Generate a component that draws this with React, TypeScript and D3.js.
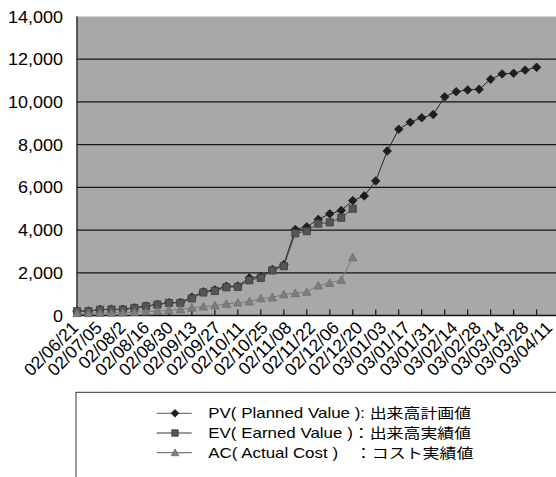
import React from "react";
import * as d3 from "d3";

const tickLabels = [
  "02/06/21", "02/07/05", "02/08/2", "02/08/16", "02/08/30", "02/09/13", "02/09/27",
  "02/10/11", "02/10/25", "02/11/08", "02/11/22", "02/12/06", "02/12/20", "03/01/03",
  "03/01/17", "03/01/31", "03/02/14", "03/02/28", "03/03/14", "03/03/28", "03/04/11",
];

const pvValues = [
  210, 210, 280, 290, 290, 360, 440, 520, 600, 610,
  860, 1110, 1200, 1370, 1380, 1760, 1820, 2150, 2380, 4030,
  4150, 4500, 4760, 4920, 5380, 5600, 6300, 7700, 8720, 9050,
  9260, 9410, 10240, 10480, 10560, 10590, 11060, 11310, 11340, 11490,
  11620,
];

const evValues = [
  200, 200, 270, 280, 280, 350, 430, 510, 590, 590,
  800, 1080, 1150, 1320, 1340, 1650, 1760, 2110, 2310, 3850,
  3950, 4300, 4360, 4580, 5000,
];

const acValues = [
  100, 100, 110, 120, 130, 150, 180, 210, 250, 280,
  360, 410, 470, 540, 600, 650, 800, 840, 990, 1040,
  1100, 1400, 1520, 1660, 2720,
];

const yTicks = [0, 2000, 4000, 6000, 8000, 10000, 12000, 14000];

const legendItems = [
  { key: "pv", label: "PV( Planned Value ): 出来高計画値" },
  { key: "ev", label: "EV( Earned Value )：出来高実績値" },
  { key: "ac", label: "AC( Actual Cost )　：コスト実績値" },
];

const W = 556;
const H = 477;
const plotLeft = 77;
const plotTop = 16.5;
const plotBottom = 315.5;
const step = 11.49;
const nSlots = 42;

const x = d3.scaleLinear().domain([0, nSlots]).range([plotLeft, plotLeft + nSlots * step]);
const y = d3.scaleLinear().domain([0, 14000]).range([plotBottom, plotTop]);
const labelX = d3.scalePoint<string>().domain(tickLabels).range([75, 549]);

const lineGen = d3
  .line<number>()
  .x((_, i) => x(i))
  .y((d) => y(d));

const diamond = (cx: number, cy: number, r: number) =>
  `M${cx},${cy - r}L${cx + r},${cy}L${cx},${cy + r}L${cx - r},${cy}Z`;
const square = (cx: number, cy: number, r: number) =>
  `M${cx - r},${cy - r}h${2 * r}v${2 * r}h${-2 * r}Z`;
const triangle = (cx: number, cy: number, r: number) =>
  `M${cx},${cy - r}L${cx + r},${cy + r * 0.8}L${cx - r},${cy + r * 0.8}Z`;

const styles: Record<string, { line: string; fill: string; stroke: string; shape: (cx: number, cy: number, r: number) => string; r: number }> = {
  pv: { line: "#262626", fill: "#1e1e1e", stroke: "#1e1e1e", shape: diamond, r: 4.3 },
  ev: { line: "#4a4a4a", fill: "#555555", stroke: "#3c3c3c", shape: square, r: 3.6 },
  ac: { line: "#7a7a7a", fill: "#7e7e7e", stroke: "#6c6c6c", shape: triangle, r: 4.2 },
};

const seriesList = [
  { key: "pv", values: pvValues },
  { key: "ev", values: evValues },
  { key: "ac", values: acValues },
];

export default function App() {
  const tickIdx = d3.range(0, nSlots + 1, 2);
  return (
    <svg
      width={W}
      height={H}
      style={{ position: "absolute", left: 0, top: 0, background: "#fff" }}
      fontFamily="'Liberation Sans', Arial, sans-serif"
    >
      <rect x={0} y={0} width={W} height={H} fill="#ffffff" />
      {/* plot area */}
      <rect
        x={plotLeft}
        y={plotTop}
        width={W - plotLeft + 10}
        height={plotBottom - plotTop}
        fill="#a8a8a8"
        stroke="#d6d6d6"
        strokeWidth={1}
      />
      {/* gridlines */}
      {yTicks.filter((t) => t > 0 && t < 14000).map((t) => (
        <line key={t} x1={plotLeft} x2={W} y1={y(t)} y2={y(t)} stroke="#141414" strokeWidth={1.2} />
      ))}
      {/* axes */}
      <line x1={plotLeft} x2={plotLeft} y1={plotTop} y2={plotBottom} stroke="#141414" strokeWidth={1.3} />
      <line x1={plotLeft} x2={W} y1={plotBottom} y2={plotBottom} stroke="#141414" strokeWidth={1.3} />
      {tickIdx.map((i) => (
        <line key={i} x1={x(i)} x2={x(i)} y1={plotBottom} y2={plotBottom - 6} stroke="#141414" strokeWidth={1.2} />
      ))}
      {/* y labels */}
      {yTicks.map((t) => (
        <g key={t} transform={`translate(63,${y(t) + 6}) scale(1.06,1)`}>
          <text x={0} y={0} textAnchor="end" fontSize={17} fill="#000">
            {d3.format(",")(t)}
          </text>
        </g>
      ))}
      {/* x labels */}
      {tickLabels.map((lab) => (
        <text
          key={lab}
          transform={`translate(${labelX(lab) ?? 0},${plotBottom + 9}) rotate(-45)`}
          textAnchor="end"
          fontSize={17.5}
          dy="0.35em"
          fill="#000"
        >
          {lab}
        </text>
      ))}
      {/* series */}
      {seriesList.map((s) => {
        const st = styles[s.key];
        return (
          <g key={s.key}>
            <path d={lineGen(s.values) ?? ""} fill="none" stroke={st.line} strokeWidth={1} />
            {s.values.map((v, i) => (
              <path key={i} d={st.shape(x(i), y(v), st.r)} fill={st.fill} stroke={st.stroke} strokeWidth={0.8} />
            ))}
          </g>
        );
      })}
      {/* legend */}
      <rect x={76} y={392.3} width={W} height={120} fill="#fff" stroke="#333" strokeWidth={1} />
      {legendItems.map((item, k) => {
        const st = styles[item.key];
        const cy = 413.3 + k * 19.7;
        return (
          <g key={item.key}>
            <line x1={156.7} x2={191.7} y1={cy} y2={cy} stroke="#7a7a7a" strokeWidth={1.3} />
            <path d={st.shape(175, cy, st.r * 0.9)} fill={st.fill} stroke={st.stroke} strokeWidth={0.8} />
            <g transform={`translate(208.3,${cy + 5}) scale(1.21,1)`}>
              <text x={0} y={0} fontSize={14} fill="#000" fontFamily="'Liberation Sans', 'Noto Sans CJK JP', sans-serif">
                {item.label}
              </text>
            </g>
          </g>
        );
      })}
    </svg>
  );
}
